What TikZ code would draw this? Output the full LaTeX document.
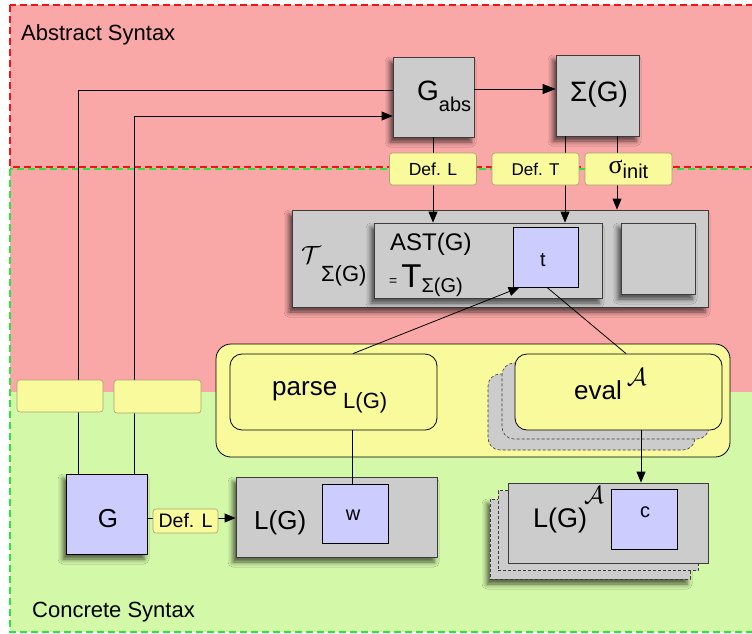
\documentclass[tikz,border=0pt]{standalone}
\usepackage{fontspec}
\setmainfont{Liberation Sans}
\newfontfamily\serifgreek{Liberation Serif}
\usetikzlibrary{arrows.meta,shadows.blur}
\newcommand\fsz[1]{\fontsize{#1}{#1}\selectfont}
\definecolor{abspink}{RGB}{249,167,167}
\definecolor{concgreen}{RGB}{211,248,168}
\definecolor{boxgray}{RGB}{204,204,204}
\definecolor{boxblue}{RGB}{204,204,255}
\definecolor{noteyellow}{RGB}{248,250,156}
\definecolor{noteedge}{RGB}{165,165,110}
\definecolor{frameline}{RGB}{60,60,60}
\definecolor{absred}{RGB}{240,20,20}
\definecolor{concgreenline}{RGB}{40,230,60}
\tikzset{
  gplain/.style={draw=frameline, fill=boxgray, line width=0.8pt, inner sep=0pt},
  gbox/.style={gplain, blur shadow={shadow xshift=-3pt, shadow yshift=-5pt,
      shadow blur radius=5pt, shadow opacity=65}},
  bbox/.style={draw=black, fill=boxblue, line width=0.8pt, inner sep=0pt},
  note/.style={draw=noteedge, fill=noteyellow, rounded corners=3pt,
      line width=0.6pt, inner sep=0pt},
  func/.style={draw=black, fill=noteyellow, rounded corners=12pt,
      line width=0.8pt, inner sep=0pt},
  ghost/.style={draw=frameline, fill=boxgray, dash pattern=on 3pt off 2pt,
      line width=0.6pt, inner sep=0pt},
  arr/.style={-{Triangle[length=11pt,width=9pt]}},
  bigarr/.style={-{Triangle[length=13pt,width=10pt]}},
  conn/.style={line width=0.8pt},
  txt/.style={inner sep=0pt, anchor=base west},
  ctxt/.style={inner sep=0pt, anchor=base},
  zone/.style={line width=1.8pt, dash pattern=on 7pt off 4pt},
}
\begin{document}
\begin{tikzpicture}[x=1pt,y=-1pt]
\useasboundingbox (0,0) rectangle (752,633);

% the two syntax zones
\fill[abspink] (10,5) rectangle (770,392);
\fill[concgreen] (10,392) rectangle (770,632);
\draw[zone, draw=concgreenline] (10,169) rectangle (775,632);
\draw[zone, draw=absred] (10,5) rectangle (775,167);

% term algebra and the AST box
\node[gbox, minimum width=416, minimum height=97] (tsig) at (500,258.5) {};
\node[gbox, minimum width=228, minimum height=75] (ast) at (488,260.5) {};

% container of the two functions, with the stacked evaluators
\node[func, rounded corners=15pt, minimum width=514, minimum height=113] (calc) at (473,400.5) {};
\node[ghost, rounded corners=12pt, minimum width=207, minimum height=76] (evalB) at (591.5,412) {};
\node[ghost, rounded corners=12pt, minimum width=207, minimum height=76] (evalA) at (605.5,401) {};

% language box
\node[gbox, minimum width=201, minimum height=80] (LG) at (336.5,517) {};

% abstract grammar and signature
\node[gbox, minimum width=81, minimum height=80] (gabs) at (433.5,97) {};
\node[gbox, minimum width=83, minimum height=81] (sigma) at (597.5,95.5) {};

% boxes of the term algebra
\node[bbox, minimum width=65, minimum height=60] (t) at (545.5,257) {};
\node[gbox, minimum width=74, minimum height=71] (spare) at (658,258.5) {};

% parser and evaluator
\node[func, minimum width=207, minimum height=76] (parse) at (333.5,392) {};
\node[func, minimum width=207, minimum height=76] (eval) at (618.5,392) {};

% concrete grammar and the word box
\node[gbox, draw=black, fill=boxblue, minimum width=81, minimum height=80] (G) at (106.5,514) {};
\node[bbox, minimum width=66, minimum height=59] (w) at (355,513.5) {};

% stacked semantic domains
\node[gbox, dash pattern=on 3pt off 2pt, line width=0.6pt, minimum width=200, minimum height=80] (lgaB) at (590,539) {};
\node[gplain, dash pattern=on 3pt off 2pt, line width=0.6pt, minimum width=200, minimum height=80] (lgaA) at (598,530.5) {};
\node[gplain, minimum width=200, minimum height=80] (LGA) at (608,523) {};
\node[bbox, minimum width=66, minimum height=60] (c) at (644,519) {};

% connectors
\coordinate (k1) at (78,90);
\coordinate (k2) at (134,116);
\draw[conn] (k1 |- G.north) -- (k1) -- (k1 -| gabs.west);
\draw[conn, arr] (k2 |- G.north) -- (k2) -- (k2 -| gabs.west);
\draw[conn, bigarr] ([yshift=8pt]gabs.east) -- ([yshift=8pt]gabs.east -| sigma.west);
\draw[conn, arr] ([xshift=-0.5pt]gabs.south) -- ([xshift=-0.5pt]gabs.south |- ast.north);
\draw[conn, arr] ([xshift=-32.5pt]sigma.south) -- ([xshift=-32.5pt]sigma.south |- ast.north);
\draw[conn, arr] ([xshift=19.5pt]sigma.south) -- ([xshift=19.5pt]sigma.south |- tsig.north);
\draw[conn, arr] ([xshift=19.5pt]parse.north) -- ([xshift=7pt]t.south west);
\draw[conn] ([xshift=1.5pt]t.south) -- ([xshift=7.5pt]eval.north);
\draw[conn, arr] ([xshift=22.5pt]eval.south) -- ([xshift=22.5pt]eval.south |- LGA.north);
\draw[conn] ([xshift=18.5pt]parse.south) -- ([xshift=18.5pt]parse.south |- w.north);
\draw[conn, arr] ([yshift=-4pt]G.east) -- ([yshift=-4pt]G.east -| LG.west);

% labels sitting on the connectors
\node[note, minimum width=87, minimum height=32, font=\fsz{17.5}] (defL1) at (433,169) {Def. L};
\node[note, minimum width=87, minimum height=32, font=\fsz{17}] (defT) at (535.5,169) {Def. T};
\node[note, minimum width=87, minimum height=32] (sinit) at (628.5,169)
  {{\fsz{26}\serifgreek σ}\raisebox{-5pt}{\fsz{20}init}};
\node[note, minimum width=86, minimum height=32] (n1) at (60,396) {};
\node[note, minimum width=87, minimum height=33] (n2) at (157.5,396.5) {};
\node[note, minimum width=65, minimum height=24, font=\fsz{19.5}] (defL2) at (185.5,521) {Def. L};

% texts
\node[txt] (absT) at (21,40) {\fsz{22}Abstract Syntax};
\node[txt] (concT) at (32,617) {\fsz{22}Concrete Syntax};
\node[txt] (gabsT) at (417,100) {\fsz{28}G\raisebox{-11pt}{\fsz{20}abs}};
\node[ctxt] (sigmaT) at (599,101) {\fsz{28}Σ(G)};
\node[txt] (tsigT) at (301,263) {\fsz{25}$\mathcal{T}$\raisebox{-18pt}{\fsz{22}Σ(G)}};
\node[txt] (astT) at (390,250) {\fsz{24}AST(G)};
\node[txt] (astEq) at (389,287) {\raisebox{2pt}{\fsz{14}=}\hspace{4pt}\fsz{33}T\raisebox{-5pt}{\fsz{20}Σ(G)}};
\node[ctxt] (tT) at (543,266) {\fsz{20}t};
\node[txt] (parseT) at (272,395) {\fsz{26}parse\hspace{6pt}\raisebox{-13pt}{\fsz{22}L(G)}};
\node[txt] (evalT) at (574,399) {\fsz{26}eval\hspace{5pt}\raisebox{14pt}{\fsz{24}$\mathcal{A}$}};
\node[ctxt] (GT) at (108,527) {\fsz{26}G};
\node[txt] (LGT) at (254,529) {\fsz{26}L(G)};
\node[ctxt] (wT) at (353,520) {\fsz{20}w};
\node[txt] (LGAT) at (533,527) {\fsz{27}L(G)\hspace{-3pt}\raisebox{24pt}{\fsz{24}$\mathcal{A}$}};
\node[ctxt] (cT) at (645,517) {\fsz{20}c};
\end{tikzpicture}
\end{document}
